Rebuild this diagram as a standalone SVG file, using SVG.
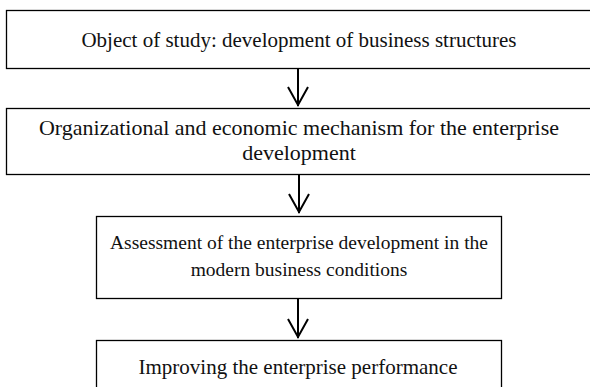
<svg xmlns="http://www.w3.org/2000/svg" width="590" height="387" viewBox="0 0 590 387">
  <style>
    .box { fill: #ffffff; stroke: #000000; stroke-width: 1.3; }
    .lbl { font-family: 'Liberation Serif', 'Times New Roman', Times, serif; font-size: 21px; fill: #111111; text-anchor: middle; }
    .lg { font-size: 22px; }
    .sm { font-size: 19.5px; }
    .conn { stroke: #000000; stroke-width: 2; fill: none; }
  </style>
  <rect width="590" height="387" fill="#ffffff"/>

  <g id="node-object">
    <rect class="box" x="6.5" y="10.5" width="600" height="58"/>
    <text class="lbl" x="299" y="47">Object of study: development of business structures</text>
  </g>

  <g id="node-mechanism">
    <rect class="box" x="6.5" y="108.5" width="600" height="66"/>
    <text class="lbl lg" x="299" y="135">Organizational and economic mechanism for the enterprise</text>
    <text class="lbl lg" x="299" y="160">development</text>
  </g>

  <g id="node-assessment">
    <rect class="box" x="96.5" y="216.5" width="405" height="82"/>
    <text class="lbl sm" x="299" y="249">Assessment of the enterprise development in the</text>
    <text class="lbl sm" x="299" y="276">modern business conditions</text>
  </g>

  <g id="node-improving">
    <rect class="box" x="96.5" y="340.5" width="405" height="60"/>
    <text class="lbl" x="298" y="374">Improving the enterprise performance</text>
  </g>

  <g id="connectors">
    <path class="conn" d="M298 68 V106 M288 87 L298 105 L308 87"/>
    <path class="conn" d="M299 174 V213 M289 194 L299 212 L309 194"/>
    <path class="conn" d="M298 298 V338 M288 319 L298 337 L308 319"/>
  </g>
</svg>
